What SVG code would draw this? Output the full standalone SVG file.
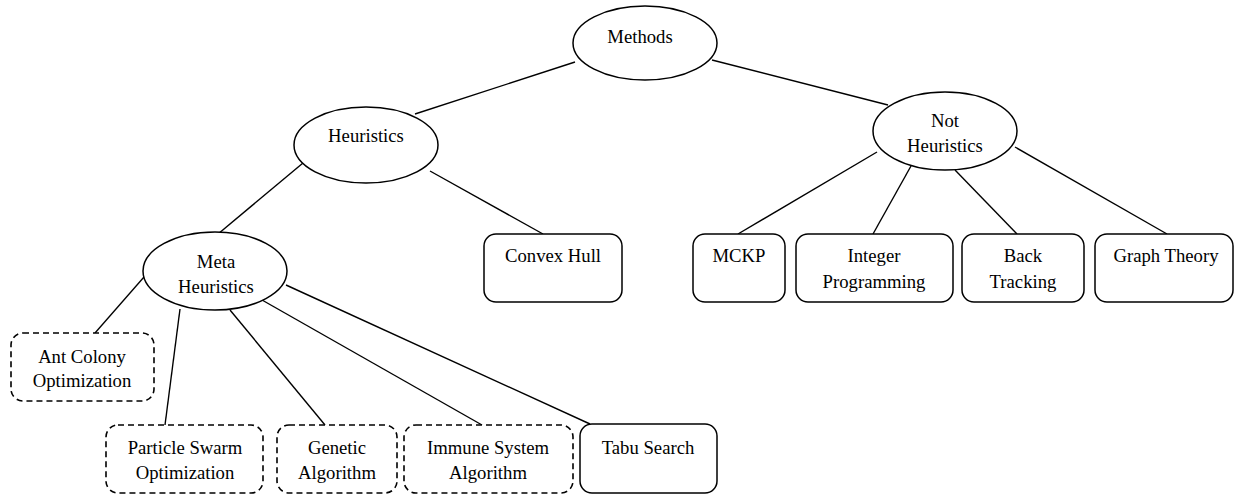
<svg xmlns="http://www.w3.org/2000/svg" width="1235" height="495" viewBox="0 0 1235 495">
<style>
text{font-family:'Times New Roman','Liberation Serif','Noto Serif','DejaVu Serif',Times,serif;font-size:18.7px;fill:#000;text-anchor:middle}
.n{fill:#fff;stroke:#000;stroke-width:1.5}
.d{fill:#fff;stroke:#000;stroke-width:1.6;stroke-dasharray:6 4}
.c line{stroke:#000;stroke-width:1.4}
</style>
<rect width="1235" height="495" fill="#fff"/>
<g class="c" id="connectors">
<line x1="415" y1="114" x2="575" y2="62"/>
<line x1="712" y1="60" x2="888" y2="105"/>
<line x1="303" y1="163" x2="218" y2="234"/>
<line x1="430" y1="171" x2="543" y2="234"/>
<line x1="877" y1="152" x2="738" y2="234"/>
<line x1="911" y1="166" x2="873" y2="234"/>
<line x1="955" y1="170" x2="1017" y2="234"/>
<line x1="1015" y1="147" x2="1167" y2="234"/>
<line x1="144" y1="277" x2="95" y2="333"/>
<line x1="180" y1="309" x2="165" y2="425"/>
<line x1="230" y1="310" x2="325" y2="425"/>
<line x1="262" y1="300" x2="482" y2="425"/>
<line x1="286" y1="285" x2="590" y2="424"/>
</g>
<g id="methods"><ellipse class="n" cx="645" cy="43" rx="72" ry="37"/><text x="640" y="43">Methods</text></g>
<g id="heuristics"><ellipse class="n" cx="366" cy="145" rx="72" ry="38"/><text x="366" y="142">Heuristics</text></g>
<g id="not-heuristics"><ellipse class="n" cx="945" cy="131" rx="72" ry="39"/><text x="945" y="127">Not</text><text x="945" y="152">Heuristics</text></g>
<g id="meta-heuristics"><ellipse class="n" cx="215" cy="271" rx="72" ry="39"/><text x="216" y="268">Meta</text><text x="216" y="293">Heuristics</text></g>
<g id="convex-hull"><rect class="n" x="484" y="234" width="138" height="68" rx="12"/><text x="553" y="262">Convex Hull</text></g>
<g id="mckp"><rect class="n" x="693" y="234" width="92" height="68" rx="12"/><text x="739" y="262">MCKP</text></g>
<g id="integer-programming"><rect class="n" x="796" y="234" width="157" height="68" rx="12"/><text x="874" y="262">Integer</text><text x="874" y="288">Programming</text></g>
<g id="back-tracking"><rect class="n" x="962" y="234" width="122" height="68" rx="12"/><text x="1023" y="262">Back</text><text x="1023" y="288">Tracking</text></g>
<g id="graph-theory"><rect class="n" x="1095" y="234" width="138" height="68" rx="12"/><text x="1166" y="262">Graph Theory</text></g>
<g id="ant-colony"><rect class="d" x="11" y="333" width="143" height="68" rx="12"/><text x="82" y="363">Ant Colony</text><text x="82" y="387">Optimization</text></g>
<g id="particle-swarm"><rect class="d" x="106" y="425" width="157" height="68" rx="12"/><text x="185" y="454">Particle Swarm</text><text x="185" y="479">Optimization</text></g>
<g id="genetic"><rect class="d" x="277" y="425" width="120" height="68" rx="12"/><text x="337" y="454">Genetic</text><text x="337" y="479">Algorithm</text></g>
<g id="immune"><rect class="d" x="404" y="425" width="169" height="68" rx="12"/><text x="488" y="454">Immune System</text><text x="488" y="479">Algorithm</text></g>
<g id="tabu"><rect class="n" x="580" y="424" width="137" height="69" rx="12"/><text x="648" y="454">Tabu Search</text></g>
</svg>
